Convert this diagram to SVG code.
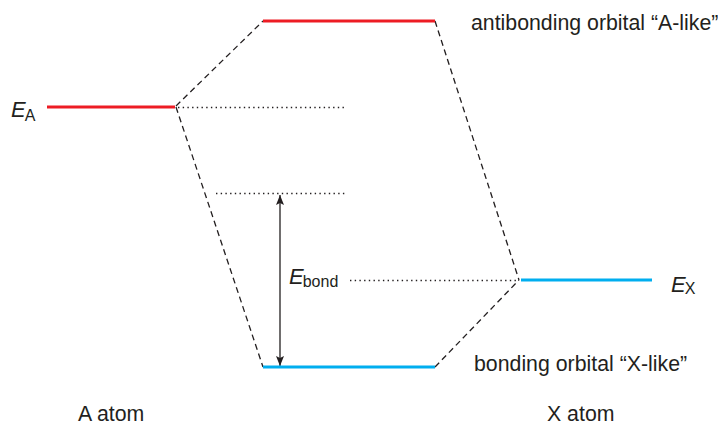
<svg xmlns="http://www.w3.org/2000/svg" width="718" height="426" viewBox="0 0 718 426">
  <style>
    text { font-family: "Liberation Sans", Arial, sans-serif; fill: #231f20; }
    .lbl { font-size: 21.3px; }
    .sym { font-size: 22px; font-style: italic; }
    .sub { font-size: 16px; font-style: normal; }
    .red { stroke: #ed1c24; stroke-width: 3; fill: none; }
    .blue { stroke: #00aeef; stroke-width: 3; fill: none; }
    .dash { stroke: #231f20; stroke-width: 1.3; stroke-dasharray: 6 4; fill: none; }
    .dot { stroke: #231f20; stroke-width: 1.4; stroke-dasharray: 1.4 3.3; fill: none; }
    .arrow { stroke: #231f20; stroke-width: 1.3; fill: none; }
  </style>
  <defs>
    <marker id="ah" viewBox="0 0 10 8" refX="10" refY="4" markerWidth="10" markerHeight="8" orient="auto-start-reverse" markerUnits="userSpaceOnUse">
      <path d="M0,0 L10,4 L0,8 L2,4 z" fill="#231f20"/>
    </marker>
  </defs>

  <!-- correlation lines, reference levels and the bond-energy arrow -->
  <g id="connectors">
    <line class="dash" x1="176" y1="106" x2="263" y2="21"/>
    <line class="dash" x1="435" y1="21" x2="519" y2="280"/>
    <line class="dash" x1="176" y1="107" x2="263" y2="367"/>
    <line class="dash" x1="435" y1="367" x2="519" y2="280"/>
    <line class="dot" x1="178" y1="107.5" x2="346" y2="107.5"/>
    <line class="dot" x1="216" y1="193.5" x2="346" y2="193.5"/>
    <line class="dot" x1="350" y1="280.5" x2="517" y2="280.5"/>
    <line class="arrow" x1="280" y1="195" x2="280" y2="366" marker-start="url(#ah)" marker-end="url(#ah)"/>
  </g>

  <g id="level-A">
    <line class="red" x1="47" y1="107" x2="175" y2="107"/>
    <text class="sym" x="11" y="117">E<tspan class="sub" dx="-1" dy="3.5">A</tspan></text>
  </g>

  <g id="antibonding">
    <line class="red" x1="263" y1="21" x2="435" y2="21"/>
    <text class="lbl" x="471" y="30">antibonding orbital “A-like”</text>
  </g>

  <g id="level-X">
    <line class="blue" x1="521" y1="280" x2="652" y2="280"/>
    <text class="sym" x="671" y="292">E<tspan class="sub" dx="-1" dy="1.5">X</tspan></text>
  </g>

  <g id="bonding">
    <line class="blue" x1="263" y1="367" x2="435" y2="367"/>
    <text class="lbl" x="474" y="371">bonding orbital “X-like”</text>
  </g>

  <g id="bond-energy">
    <text class="sym" x="289" y="284">E<tspan class="sub" dx="-1" dy="2.5">bond</tspan></text>
  </g>

  <g id="atom-labels">
    <text class="lbl" x="78" y="421">A atom</text>
    <text class="lbl" x="547" y="421">X atom</text>
  </g>
</svg>
